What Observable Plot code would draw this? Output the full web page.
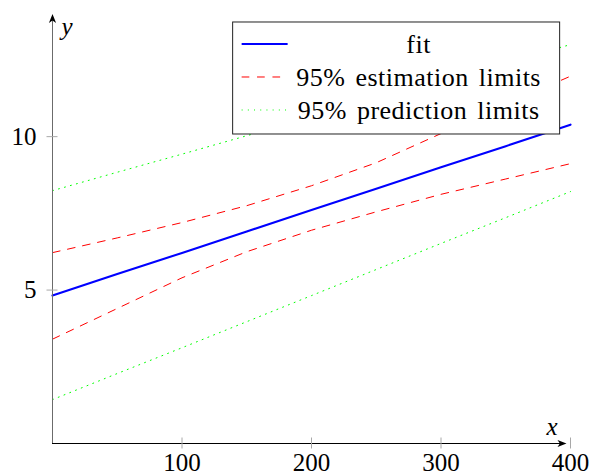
<!DOCTYPE html>
<html><head><meta charset="utf-8">
<script src="https://cdn.jsdelivr.net/npm/d3@7"></script>
<script src="https://cdn.jsdelivr.net/npm/@observablehq/plot@0.6"></script>
<style>
body{margin:0;background:#fff}
#chart{position:relative;width:590px;height:476px}
</style>
</head><body><div id="chart"></div>
<script>
// ---- data ----
const xs        = [0, 50, 100, 150, 200, 250, 300, 350, 400];
const fit       = [4.82, 5.52, 6.21, 6.91, 7.61, 8.30, 9.00, 9.69, 10.39];
const estLower  = [3.40, 4.40, 5.40, 6.25, 6.95, 7.55, 8.12, 8.62, 9.12];
const estUpper  = [6.22, 6.70, 7.20, 7.75, 8.40, 9.15, 10.10, 11.05, 11.97];
const predLower = [1.43, 2.28, 3.12, 3.97, 4.82, 5.67, 6.52, 7.36, 8.21];
const predUpper = [8.24, 8.84, 9.43, 10.03, 10.62, 11.22, 11.81, 12.41, 13.00];
const xTicks = [100, 200, 300, 400];
const yTicks = [5, 10];
const xDomain = [0, 400];
const yDomain = [0, 14];
const xLabel = "x";
const yLabel = "y";
const legendLabels = ["fit", "95% estimation limits", "95% prediction limits"];

// ---- styles ----
const font = "Liberation Serif, DejaVu Serif, Times New Roman, Times, serif";
const styles = [
  {stroke: "#0000ff", strokeWidth: 2.1, dash: null},
  {stroke: "#ff0000", strokeWidth: 1, dash: "7.7,7.7"},
  {stroke: "#00ff00", strokeWidth: 1, dash: "1,5.2"}
];
const arrowUp = {draw(ctx){ ctx.moveTo(0,0); ctx.lineTo(-3.6,9); ctx.lineTo(0,6.6); ctx.lineTo(3.6,9); ctx.closePath(); }};
const arrowRight = {draw(ctx){ ctx.moveTo(0,0); ctx.lineTo(-9,-3.6); ctx.lineTo(-6.6,0); ctx.lineTo(-9,3.6); ctx.closePath(); }};

const lineMark = (ys, s) => Plot.line(xs, {
  x: d => d, y: (d, i) => ys[i],
  stroke: s.stroke, strokeWidth: s.strokeWidth, strokeDasharray: s.dash
});

const plot = Plot.plot({
  width: 590, height: 476,
  marginLeft: 52, marginRight: 20, marginTop: 13.4, marginBottom: 33,
  x: {domain: xDomain},
  y: {domain: yDomain},
  style: {fontFamily: font, fontSize: "25px", background: "white", color: "black"},
  marks: [
    lineMark(predUpper, styles[2]),
    lineMark(predLower, styles[2]),
    lineMark(estUpper, styles[1]),
    lineMark(estLower, styles[1]),
    lineMark(fit, styles[0]),
    // axis lines
    Plot.ruleY([yDomain[0]], {stroke: "black", strokeWidth: 1, insetRight: 5}),
    Plot.ruleX([xDomain[0]], {stroke: "#6b6b6b", strokeWidth: 1, insetTop: 5}),
    Plot.dot([0], {x: xDomain[1], y: yDomain[0], dx: -4, symbol: arrowRight, r: 4, fill: "black", stroke: null}),
    Plot.dot([0], {x: xDomain[0], y: yDomain[1], symbol: arrowUp, r: 4, fill: "black", stroke: null}),
    // ticks crossing the axes
    Plot.axisX(xTicks, {tickSize: 11, dy: -5.5, tickFormat: () => "", stroke: "#a8a8a8", label: null}),
    Plot.axisY(yTicks, {tickSize: 11, dx: 5.5, tickFormat: () => "", stroke: "#a8a8a8", label: null}),
    // tick labels
    Plot.axisX(xTicks, {tickSize: 0, tickPadding: 10, label: null, fill: "black", fontSize: 25, fontFamily: font}),
    Plot.axisY(yTicks, {tickSize: 0, tickPadding: 16, label: null, fill: "black", fontSize: 25, fontFamily: font}),
    // axis labels
    Plot.text([yLabel], {text: d => d, frameAnchor: "top-left", textAnchor: "start", lineAnchor: "bottom", dx: 9, dy: 20.6, fontStyle: "italic", fontSize: 25, fontFamily: font, fill: "black"}),
    Plot.text([xLabel], {text: d => d, frameAnchor: "bottom-right", textAnchor: "end", lineAnchor: "bottom", dx: -13, dy: -9, fontStyle: "italic", fontSize: 25, fontFamily: font, fill: "black"})
  ]
});
document.getElementById("chart").appendChild(plot);

// ---- legend (north east, inside the axis) ----
const sx = plot.scale("x"), sy = plot.scale("y");
const fl = Math.min(...sx.range), fr = Math.max(...sx.range);
const ft = Math.min(...sy.range), fb = Math.max(...sy.range);
const boxW = 327, boxH = 112;
const boxRight = fl + 0.98 * (fr - fl);
const boxTop = ft + 0.02 * (fb - ft);
const boxLeft = boxRight - boxW;
const svg = d3.select(plot);
const lg = svg.append("g");
lg.append("rect").attr("x", boxLeft).attr("y", boxTop).attr("width", boxW).attr("height", boxH)
  .attr("fill", "white").attr("stroke", "#222").attr("stroke-width", 1);
legendLabels.forEach((label, i) => {
  const cy = boxTop + 22 + i * 33;
  const s = styles[i];
  lg.append("line").attr("x1", boxLeft + 9).attr("x2", boxLeft + 55).attr("y1", cy).attr("y2", cy)
    .attr("stroke", s.stroke).attr("stroke-width", s.strokeWidth).attr("stroke-dasharray", s.dash);
  lg.append("text").attr("x", boxLeft + 186).attr("y", cy).attr("dy", "0.33em")
    .attr("text-anchor", "middle").style("font-family", font).attr("font-size", 26)
    .attr("letter-spacing", "0.5px").attr("word-spacing", "3px").attr("fill", "black").text(label);
});
</script>
</body></html>
